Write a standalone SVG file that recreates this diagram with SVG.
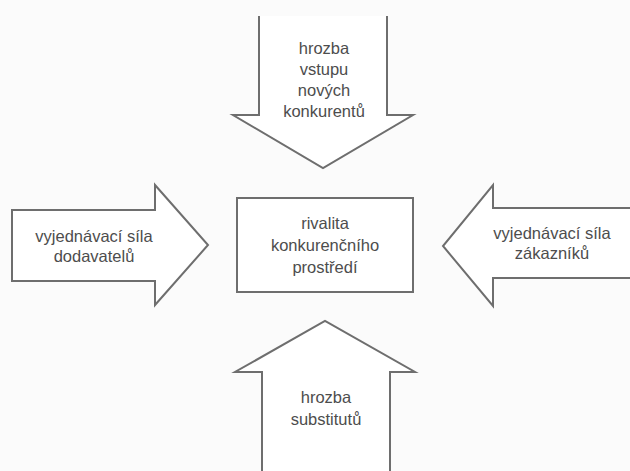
<svg xmlns="http://www.w3.org/2000/svg" width="630" height="471" viewBox="0 0 630 471">
<style>
.shape{fill:#ffffff;stroke:#6e6e6e;stroke-width:2;stroke-linejoin:miter}
.lbl{font-family:"Liberation Sans",Arial,sans-serif;font-size:16.5px;fill:#4d4d4d;text-anchor:middle}
</style>
<rect width="630" height="471" fill="#fbfbfb"/>
<g id="connectors">
<path id="arrow-top" class="shape" d="M259,16 V115 H233 L323,168 L413,115 H387 V16"/>
<path id="arrow-bottom" class="shape" d="M262,471 V372 H235 L325,321 L415,372 H390 V471"/>
<path id="arrow-left" class="shape" d="M12,210 H155 V185 L208,245 L155,305 V281 H12 Z"/>
<path id="arrow-right" class="shape" d="M630,208 H493 V185 L443,246 L493,306 V278 H630"/>
</g>
<g id="node-rivalita">
<rect class="shape" x="237" y="198" width="176" height="94"/>
<text class="lbl" x="325" y="229">rivalita</text>
<text class="lbl" x="325" y="251">konkurenčního</text>
<text class="lbl" x="325" y="273">prostředí</text>
</g>
<g id="node-novi">
<text class="lbl" x="324" y="54">hrozba</text>
<text class="lbl" x="324" y="75">vstupu</text>
<text class="lbl" x="324" y="96">nových</text>
<text class="lbl" x="324" y="117">konkurentů</text>
</g>
<g id="node-dodavatele">
<text class="lbl" x="94" y="242">vyjednávací síla</text>
<text class="lbl" x="94" y="262">dodavatelů</text>
</g>
<g id="node-zakaznici">
<text class="lbl" x="552" y="239">vyjednávací síla</text>
<text class="lbl" x="552" y="259">zákazníků</text>
</g>
<g id="node-substituty">
<text class="lbl" x="326" y="403">hrozba</text>
<text class="lbl" x="326" y="425">substitutů</text>
</g>
</svg>
